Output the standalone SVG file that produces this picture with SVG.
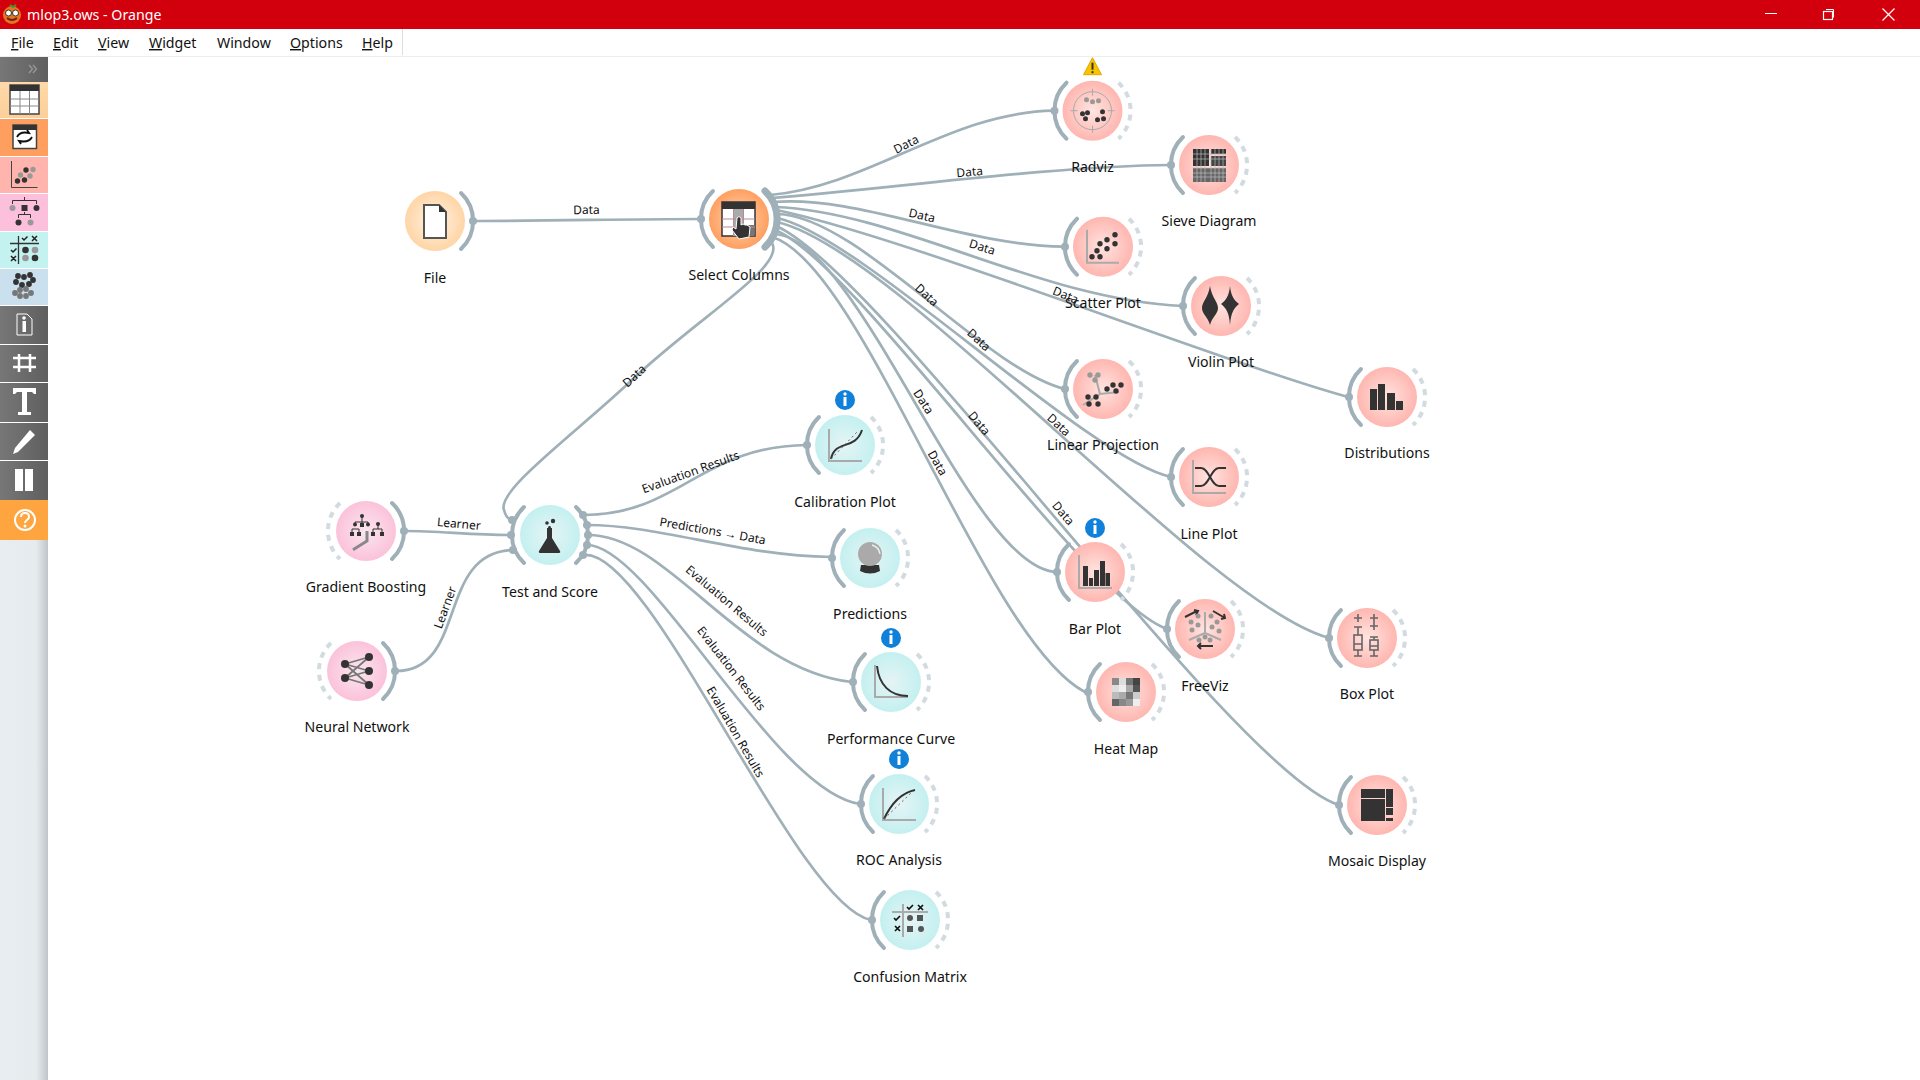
<svg xmlns="http://www.w3.org/2000/svg" width="1920" height="1080" viewBox="0 0 1920 1080">
<style>
text{font-family:"Noto Sans","Open Sans","Liberation Sans",sans-serif;fill:#111}
.t{font-size:14.1px;text-anchor:middle}
.l{font-size:12px;text-anchor:middle}
.m{font-size:14.2px}
.u{text-decoration:underline}
.c{fill:none;stroke:#9fb0b8;stroke-width:2.700}
.a{fill:none;stroke:#9fb0b8;stroke-width:4;stroke-linecap:round}
.d{fill:none;stroke:#d2dbe0;stroke-width:4;stroke-dasharray:6 5.7}
.p{fill:#9fb0b8}
.k{fill:#333}
.g{fill:#999}
.s{fill:none;stroke:#333;stroke-width:2}
.h{fill:none;stroke:#aaa;stroke-width:2}
.r{fill:url(#red)}.o{fill:url(#org)}.f{fill:url(#pale)}.n{fill:url(#pnk)}.y{fill:url(#cyn)}
.w{fill:#fff}
</style>
<defs>
<radialGradient id="red"><stop offset="0" stop-color="#ffe4e0"/><stop offset="1" stop-color="#ffb6b0"/></radialGradient>
<radialGradient id="org"><stop offset="0" stop-color="#ffd6b4"/><stop offset="1" stop-color="#ff9f60"/></radialGradient>
<radialGradient id="pale"><stop offset="0" stop-color="#fff3e6"/><stop offset="1" stop-color="#ffd5a5"/></radialGradient>
<radialGradient id="pnk"><stop offset="0" stop-color="#fbe6ef"/><stop offset="1" stop-color="#fbc2da"/></radialGradient>
<radialGradient id="cyn"><stop offset="0" stop-color="#e6f4f5"/><stop offset="1" stop-color="#c4f0f0"/></radialGradient>
<linearGradient id="gr" x1="0" x2="1" y1="0" y2="0"><stop offset="0" stop-color="#777"/><stop offset="1" stop-color="#5f5f5f"/></linearGradient>
<linearGradient id="sh" x1="0" x2="1" y1="0" y2="0"><stop offset="0" stop-color="#e8edf1"/><stop offset="0.75" stop-color="#e6ebee"/><stop offset="1" stop-color="#bfc6ca"/></linearGradient>
<linearGradient id="t1" x1="0" x2="0" y1="0" y2="1"><stop offset="0" stop-color="#ffd9a8"/><stop offset="1" stop-color="#fbcf9b"/></linearGradient>
<path id="ar" d="M26,-28A38.500,38.500 0 0 1 26,28"/>
<path id="al" d="M-26,-28A38.500,38.500 0 0 0 -26,28"/>
<g id="info"><circle r="10" fill="#1080d8"/><rect x="-1.500" y="-3" width="3" height="9" class="w"/><circle cy="-6" r="1.700" class="w"/></g>
</defs>
<rect width="1920" height="1080" fill="#fff"/>

<g id="window-chrome">
<rect width="1920" height="29" fill="#d2000d"/>
<circle cx="12" cy="15" r="9" fill="#e8751a"/><path d="M10,5l3,2l3,-2" fill="none" stroke="#3a9a3a" stroke-width="2"/><circle cx="8.500" cy="13" r="3" fill="#fff" stroke="#333"/><circle cx="15.500" cy="13" r="3" fill="#fff" stroke="#333"/><path d="M7,18q5,4 10,0" fill="none" stroke="#622" stroke-width="2"/>
<text x="27" y="20" style="font-size:14.200px;fill:#fff">mlop3.ows - Orange</text>
<path d="M1765,13.500h12" stroke="#fff" fill="none"/>
<rect x="1823.500" y="11.500" width="9" height="8" fill="none" stroke="#fff" stroke-width="1.200"/><path d="M1826,9.500h7.500v8" fill="none" stroke="#fff"/>
<path d="M1882.500,8.500l12,12M1894.500,8.500l-12,12" stroke="#fff" stroke-width="1.200" fill="none"/>
<text class="m" x="11" y="48"><tspan class="u">F</tspan>ile</text>
<text class="m" x="53" y="48"><tspan class="u">E</tspan>dit</text>
<text class="m" x="98" y="48"><tspan class="u">V</tspan>iew</text>
<text class="m" x="149" y="48"><tspan class="u">W</tspan>idget</text>
<text class="m" x="217" y="48">Window</text>
<text class="m" x="290" y="48"><tspan class="u">O</tspan>ptions</text>
<text class="m" x="362" y="48"><tspan class="u">H</tspan>elp</text>
<path d="M402.500,29v26" stroke="#ddd" fill="none"/>
<path d="M0,56.500H1920" stroke="#eee" fill="none"/>
</g>

<g id="sidebar">
<rect y="540" width="48" height="540" fill="url(#sh)"/>
<rect y="57" width="48" height="25" fill="url(#gr)"/>
<path d="M29,65l3.500,4l-3.500,4M33,65l3.500,4l-3.500,4" fill="none" stroke="#999" stroke-width="1.300"/>
<rect y="82" width="48" height="36" fill="url(#t1)"/>
<rect y="119" width="48" height="37" fill="#ff9f5f"/>
<rect y="157" width="48" height="36" fill="#ffb4ae"/>
<rect y="194" width="48" height="37" fill="#fcc0dc"/>
<rect y="232" width="48" height="36" fill="#c4f2f0"/>
<rect y="269" width="48" height="36" fill="#cbe0ee"/>
<rect y="306" width="48" height="38" fill="url(#gr)"/>
<rect y="345" width="48" height="37" fill="url(#gr)"/>
<rect y="383" width="48" height="39" fill="url(#gr)"/>
<rect y="423" width="48" height="37" fill="url(#gr)"/>
<rect y="461" width="48" height="39" fill="url(#gr)"/>
<rect y="500" width="48" height="40" fill="#ffa53f"/>
<rect x="10" y="85" width="29" height="29" fill="#fff" stroke="#444" stroke-width="1.500"/><rect x="10" y="85" width="29" height="6" fill="#333"/><path d="M20,91v23M29.500,91v23M10,99h29M10,106h29" stroke="#888" fill="none"/>
<rect x="13" y="125" width="23.500" height="23.500" fill="#fff" stroke="#444" stroke-width="1.500"/><rect x="13" y="125" width="23.500" height="5" fill="#333"/><path d="M17,137q3,-6 12,-4l-2,-3M32,137q-3,6 -13,4l2,3" fill="none" stroke="#111" stroke-width="1.800"/>
<path d="M11.500,161v26.500h26" fill="none" stroke="#444"/><g class="k"><circle cx="17.500" cy="181" r="2.700"/><circle cx="24.500" cy="180" r="2.700"/><circle cx="26" cy="170" r="2.700"/></g><g class="g"><circle cx="20.500" cy="175" r="2.700"/><circle cx="30" cy="176" r="2.700"/><circle cx="33" cy="169.500" r="2.700"/></g>
<path d="M12.500,204v-3.500h24v3.500M24.500,197v3.500M18.500,218v-3.500h12v3.500M24.500,212v2" fill="none" stroke="#333"/><circle cx="12.500" cy="208" r="3" class="g"/><rect x="21.500" y="205" width="6" height="6" class="k"/><circle cx="36.500" cy="208" r="3" class="k"/><circle cx="18.500" cy="222.500" r="3" class="k"/><circle cx="30.500" cy="222.500" r="3" class="g"/>
<path d="M18.500,236v28M10,243.500h29" stroke="#333" fill="none" stroke-width="1.300"/><circle cx="25.500" cy="250" r="3.300" class="k"/><circle cx="35" cy="250" r="3.300" class="g"/><circle cx="25.500" cy="258" r="3.300" class="g"/><circle cx="35" cy="258" r="3.300" class="k"/><path d="M22,238l2,2l3.500,-3.500M32,236l5,5M37,236l-5,5M11,250l2,2l3.500,-3.500M11,256l5,5M16,256l-5,5" fill="none" stroke="#222" stroke-width="1.500"/>
<g class="k"><circle cx="18" cy="276" r="2.900"/><circle cx="24" cy="277" r="2.900"/><circle cx="30" cy="275" r="2.900"/><circle cx="16" cy="282" r="2.900"/><circle cx="22" cy="285" r="2.900"/><circle cx="29" cy="284" r="2.900"/><circle cx="33" cy="280" r="2.900"/></g><g fill="#777"><circle cx="15" cy="293" r="2.900"/><circle cx="20" cy="290" r="2.900"/><circle cx="26" cy="289" r="2.900"/><circle cx="31" cy="293" r="2.900"/><circle cx="20" cy="296" r="2.900"/><circle cx="26" cy="296" r="2.900"/></g>
<path d="M17,314h10l5,5v16h-15z" fill="none" stroke="#fff"/><rect x="22.500" y="321" width="3.500" height="11" class="w"/><circle cx="24" cy="318" r="1.800" class="w"/>
<path d="M19,354v18M30,354v18M13,358h23M13,367h23" stroke="#fff" stroke-width="2.500" fill="none"/>
<path d="M13,388h23v6h-2l-2,-2h-5v20h4v3h-13v-3h4v-20h-5l-2,2h-2z" class="w"/>
<path d="M30,430l5,5l-17,17l-5,2l2,-6z" class="w"/>
<rect x="15" y="469" width="8" height="22" class="w"/><rect x="25" y="469" width="8" height="22" class="w"/>
<circle cx="25" cy="520" r="10" fill="none" stroke="#fff" stroke-width="2"/><path d="M21,517q0,-4 4,-4t4,4c0,3 -4,3 -4,6" fill="none" stroke="#fff" stroke-width="2"/><circle cx="25" cy="526" r="1.500" class="w"/>
</g>

<g id="connectors">
<path class="c" d="M473,221C560,221 620,219 701,219"/>
<path class="c" d="M770,195C870,186 950,112 1054,110.700"/>
<path class="c" d="M772,198C880,190 1050,166 1170,165"/>
<path class="c" d="M773,202C860,195 960,245 1064,246.700"/>
<path class="c" d="M775,207C900,212 1040,300 1183,306"/>
<path class="c" d="M776,210C900,235 1224,363 1348,397"/>
<path class="c" d="M777,214C857,215 985,370 1065,389"/>
<path class="c" d="M777,218C860,235 1088,459 1171,477"/>
<path class="c" d="M777,222C900,250 1206,605 1329,638"/>
<path class="c" d="M776,226C880,270 1234,773 1339,805"/>
<path class="c" d="M775,230C857,263 1085,600 1167,629"/>
<path class="c" d="M774,234C860,236 970,570 1057,572"/>
<path class="c" d="M772,237C863,264 985,640 1085,692"/>
<path class="c" d="M772,243C786,266 700,316 634,378C580,430 496,490 504,510C506,518 510,520 513,520"/>
<path class="c" d="M405,531C440,531 470,535 510,535"/>
<path class="c" d="M396,671C468,671 436,552 513,550"/>
<path class="c" d="M583,515C680,515 700,446 807,445"/>
<path class="c" d="M587,525C660,525 740,556 831,557"/>
<path class="c" d="M588,535C670,535 740,670 852,682"/>
<path class="c" d="M587,545C650,545 774,792 860,804"/>
<path class="c" d="M583,555C650,545 795,905 871,920"/>
<g>
<text class="l" transform="translate(586.500 214) rotate(-1)">Data</text>
<text class="l" transform="translate(908 148) rotate(-27)">Data</text>
<text class="l" transform="translate(970 176) rotate(-5)">Data</text>
<text class="l" transform="translate(921 219.500) rotate(13)">Data</text>
<text class="l" transform="translate(981 251) rotate(17)">Data</text>
<text class="l" transform="translate(1064 299) rotate(22)">Data</text>
<text class="l" transform="translate(924 298) rotate(43)">Data</text>
<text class="l" transform="translate(976 343) rotate(42)">Data</text>
<text class="l" transform="translate(1056 428) rotate(42)">Data</text>
<text class="l" transform="translate(976 426) rotate(50)">Data</text>
<text class="l" transform="translate(1060 516) rotate(50)">Data</text>
<text class="l" transform="translate(920 404) rotate(57)">Data</text>
<text class="l" transform="translate(934 465) rotate(60)">Data</text>
<text class="l" transform="translate(637 379) rotate(-42)">Data</text>
<text class="l" transform="translate(458.500 528) rotate(5)">Learner</text>
<text class="l" transform="translate(449 609) rotate(-70)">Learner</text>
<text class="l" transform="translate(692 476) rotate(-20)">Evaluation Results</text>
<text class="l" transform="translate(712 535) rotate(10)">Predictions → Data</text>
<text class="l" transform="translate(724 604) rotate(40)">Evaluation Results</text>
<text class="l" transform="translate(728 671) rotate(52)">Evaluation Results</text>
<text class="l" transform="translate(732 734) rotate(60)">Evaluation Results</text>
</g>
</g>

<g id="file" transform="translate(435 221)"><circle r="30" class="f"/><use href="#ar" class="a"/><circle cx="38" r="4" class="p"/>
<path d="M-11,-16h15l7,7v26h-22z" fill="#fff" stroke="#555" stroke-width="2"/><path d="M4,-16l7,7h-7z" class="k"/>
<text class="t" y="62">File</text></g>

<g id="select-columns" transform="translate(739 219)"><circle r="30" class="o"/><use href="#al" class="a"/><use href="#ar" class="a"/><circle cx="-38" r="4" class="p"/>
<path d="M26,-28A38.500,38.500 0 0 1 26,28" fill="none" stroke="#9fb0b8" stroke-width="7" stroke-linecap="round"/>
<rect x="-17" y="-17" width="33" height="34" fill="#fff" stroke="#333" stroke-width="1.500"/><rect x="-17" y="-17" width="33" height="7" class="k"/><rect x="-5.500" y="-10" width="10" height="27" fill="#aaa"/><rect x="4.500" y="6" width="11" height="11" fill="#777"/><path d="M-17,0h33M-17,8h33M-5.500,-10v27M4.500,-10v27" stroke="#b89" fill="none"/>
<path d="M-2,-1q2,-3 4,0v7l2,-1l2,1l2,0l3,2l-1,10l-10,2l-7,-9l1,-3l3,2z" fill="#333" stroke="#fff"/>
<text class="t" y="61">Select Columns</text></g>

<g id="radviz" transform="translate(1092.500 110.700)"><circle r="30" class="r"/><use href="#al" class="a"/><use href="#ar" class="d"/><circle cx="-38" r="4" class="p"/>
<circle r="19" fill="none" stroke="#aaa"/><path d="M0,-22v7M0,15v7M-22,0h7M15,0h7" stroke="#aaa" fill="none"/><g class="g"><circle cx="-6" cy="-11" r="2.500"/><circle cy="-9" r="2.500"/><circle cx="6" cy="-10" r="2.500"/></g><g class="k"><circle cx="-10" cy="3" r="2.500"/><circle cx="-5" cy="2" r="2.500"/><circle cx="-7" cy="8" r="2.500"/><circle cx="10" cy="1" r="2.500"/><circle cx="5" cy="9" r="2.500"/><circle cx="11" cy="8" r="2.500"/></g>
<text class="t" y="61">Radviz</text>
<path d="M0,-53l9,17h-18z" fill="#f8c400" stroke="#e2a800" stroke-linejoin="round"/><rect x="-1" y="-48" width="2" height="7" class="k"/><rect x="-1" y="-39.500" width="2" height="2" class="k"/></g>

<g id="sieve-diagram" transform="translate(1209 165)"><circle r="30" class="r"/><use href="#al" class="a"/><use href="#ar" class="d"/><circle cx="-38" r="4" class="p"/>
<rect x="-16" y="-16" width="16" height="17" class="k"/><rect x="2" y="-16" width="15" height="5" class="k"/><rect x="2" y="-9" width="15" height="10" fill="#444"/><rect x="-16" y="3" width="33" height="14" fill="#666"/><path d="M-12,-16v33M-8,-16v33M-4,-16v33M2,-16v33M6,-16v33M10,-16v33M14,-16v33M-16,-11h33M-16,-6h33M-16,3h33M-16,8h33M-16,12h33" stroke="#bbb" stroke-width=".7" fill="none"/>
<text class="t" y="61">Sieve Diagram</text></g>

<g id="scatter-plot" transform="translate(1103 246.700)"><circle r="30" class="r"/><use href="#al" class="a"/><use href="#ar" class="d"/><circle cx="-38" r="4" class="p"/>
<path d="M-16,-17v33h32" class="h"/><g class="k"><circle cx="-11" cy="10" r="2.700"/><circle cx="-6" cy="4" r="2.700"/><circle cx="-3" cy="10" r="2.700"/><circle cx="-3" cy="-3" r="2.700"/><circle cx="4" cy="2" r="2.700"/><circle cx="4" cy="-7" r="2.700"/><circle cx="12" cy="-3" r="2.700"/><circle cx="12" cy="-12" r="2.700"/></g>
<text class="t" y="61">Scatter Plot</text></g>

<g id="violin-plot" transform="translate(1221 306)"><circle r="30" class="r"/><use href="#al" class="a"/><use href="#ar" class="d"/><circle cx="-38" r="4" class="p"/>
<path d="M-11,-20C-9,-8 -3,-4 -3,2C-3,8 -9,11 -11,19C-13,11 -19,8 -19,2C-19,-4 -13,-8 -11,-20z" class="k"/><path d="M9,-20C10,-10 13,-6 18,-2C13,2 10,6 9,19C8,6 5,2 0,-2C5,-6 8,-10 9,-20z" class="k"/>
<text class="t" y="61">Violin Plot</text></g>

<g id="linear-projection" transform="translate(1103 389)"><circle r="30" class="r"/><use href="#al" class="a"/><use href="#ar" class="d"/><circle cx="-38" r="4" class="p"/>
<path d="M-8,-14L-3,5L16,3M-3,5L-20,16" class="h"/><g class="g"><circle cx="-13" cy="-14" r="2.700"/><circle cx="-5" cy="-14" r="2.700"/><circle cx="-8" cy="-9" r="2.700"/></g><g class="k"><circle cx="4" cy="0" r="2.700"/><circle cx="10" cy="-4" r="2.700"/><circle cx="13" cy="2" r="2.700"/><circle cx="18" cy="-4" r="2.700"/><circle cx="-15" cy="8" r="2.700"/><circle cx="-7" cy="8" r="2.700"/><circle cx="-14" cy="15" r="2.700"/><circle cx="-5" cy="15" r="2.700"/></g>
<text class="t" y="61">Linear Projection</text></g>

<g id="distributions" transform="translate(1387 397)"><circle r="30" class="r"/><use href="#al" class="a"/><use href="#ar" class="d"/><circle cx="-38" r="4" class="p"/>
<rect x="-17" y="-8" width="7" height="21" class="k"/><rect x="-9" y="-13" width="7" height="26" class="k"/><rect x="0" y="-4" width="8" height="17" class="k"/><rect x="9" y="4" width="7" height="9" class="k"/>
<text class="t" y="61">Distributions</text></g>

<g id="line-plot" transform="translate(1209 477)"><circle r="30" class="r"/><use href="#al" class="a"/><use href="#ar" class="d"/><circle cx="-38" r="4" class="p"/>
<path d="M-16,-17v33h33" class="h"/><path d="M-14,-9H-8C0,-9 2,9 10,9H17M-14,9H-8C0,9 2,-9 10,-9H17" class="s"/>
<text class="t" y="62">Line Plot</text></g>

<g id="bar-plot" transform="translate(1095 572)"><circle r="30" class="r"/><use href="#al" class="a"/><use href="#ar" class="d"/><circle cx="-38" r="4" class="p"/>
<path d="M-16,-17v33h33" class="h"/><rect x="-12" y="-6" width="5" height="20" class="k"/><rect x="-6" y="6" width="4" height="8" class="k"/><rect x="-1" y="-2" width="5" height="16" class="k"/><rect x="5" y="-11" width="5" height="25" class="k"/><rect x="10.500" y="1" width="4.500" height="13" class="k"/>
<text class="t" y="62">Bar Plot</text><use href="#info" y="-44"/></g>

<g id="freeviz" transform="translate(1205 629)"><circle r="30" class="r"/><use href="#al" class="a"/><use href="#ar" class="d"/><circle cx="-38" r="4" class="p"/>
<path d="M0,-17V4L-16,11M0,4L16,11" class="h"/><path d="M-20,-12L-8,-18M-11,-19L-7,-18L-9,-14M8,-18L20,-11M16,-10L20,-11L19,-15M-7,17H8M-4,14L-7,17L-4,20" class="s"/><g class="g"><circle cx="-7" cy="-13" r="2.500"/><circle cx="-14" cy="-7" r="2.500"/><circle cx="-7" cy="-4" r="2.500"/><circle cx="-13" cy="1" r="2.500"/><circle cx="6" cy="-13" r="2.500"/><circle cx="12" cy="-7" r="2.500"/><circle cx="7" cy="-2" r="2.500"/><circle cx="14" cy="2" r="2.500"/><circle cx="-6" cy="11" r="2.500"/><circle cx="0" cy="8" r="2.500"/><circle cx="5" cy="11" r="2.500"/></g>
<text class="t" y="62">FreeViz</text></g>

<g id="box-plot" transform="translate(1367 638)"><circle r="30" class="r"/><use href="#al" class="a"/><use href="#ar" class="d"/><circle cx="-38" r="4" class="p"/>
<g fill="none" stroke="#666" stroke-width="1.600"><path d="M-13,-20h8M-9,-24v8M-13,-11h8M-9,-11v8M-9,12v6M-13,18h8"/><rect x="-13" y="-3" width="8" height="15"/><path d="M-13,6h8M3,-20h8M7,-24v8M3,-12h8M7,-16v8M3,-1h8M7,-1v3M7,12v6M3,18h8M3,8h8"/><rect x="3" y="2" width="8" height="10"/></g>
<text class="t" y="61">Box Plot</text></g>

<g id="heat-map" transform="translate(1126 692)"><circle r="30" class="r"/><use href="#al" class="a"/><use href="#ar" class="d"/><circle cx="-38" r="4" class="p"/>
<g><rect x="-14" y="-14" width="28" height="28" fill="#aaa"/><rect x="-14" y="-14" width="7" height="7" fill="#888"/><rect x="-7" y="-14" width="7" height="7" fill="#ddd"/><rect x="7" y="-14" width="7" height="7" fill="#444"/><rect x="0" y="-14" width="7" height="7" fill="#777"/><rect x="-14" y="-7" width="7" height="7" fill="#ddd"/><rect x="-7" y="-7" width="7" height="7" fill="#eee"/><rect x="7" y="-7" width="7" height="7" fill="#555"/><rect x="-14" y="0" width="7" height="7" fill="#bbb"/><rect x="0" y="0" width="7" height="7" fill="#777"/><rect x="7" y="0" width="7" height="7" fill="#ccc"/><rect x="-14" y="7" width="7" height="7" fill="#666"/><rect x="-7" y="7" width="7" height="7" fill="#888"/><rect x="0" y="7" width="7" height="7" fill="#999"/><rect x="7" y="7" width="7" height="7" fill="#eee"/></g>
<text class="t" y="62">Heat Map</text></g>

<g id="mosaic-display" transform="translate(1377 805)"><circle r="30" class="r"/><use href="#al" class="a"/><use href="#ar" class="d"/><circle cx="-38" r="4" class="p"/>
<rect x="-16" y="-16" width="24" height="9" class="k"/><rect x="-16" y="-6" width="24" height="22" class="k"/><rect x="9" y="-16" width="7" height="18" class="k"/><rect x="9" y="3" width="7" height="7" class="k"/><rect x="9" y="13" width="7" height="3" class="k"/>
<text class="t" y="61">Mosaic Display</text></g>

<g id="gradient-boosting" transform="translate(366 531)"><circle r="30" class="n"/><use href="#ar" class="a"/><use href="#al" class="d"/><circle cx="38" r="4" class="p"/>
<path d="M-13,18.700L1,10V0" fill="none" stroke="#888" stroke-width="3"/><path d="M-11,-5v-4h13v4M-4,-14v8M-14,1v-3h7v3M12,-6v4M7,1v-3h9v3" fill="none" stroke="#333"/><g class="k"><circle cx="-4" cy="-15" r="2"/><rect x="-6" y="-8" width="4" height="4"/><circle cx="-11" cy="-6.500" r="2"/><circle cx="2" cy="-6.500" r="2"/><rect x="-16" y="1" width="4" height="4"/><rect x="-9" y="1" width="4" height="4"/><circle cx="12" cy="-7" r="2"/><rect x="5" y="1" width="4" height="4"/><rect x="14" y="1" width="4" height="4"/></g>
<text class="t" y="61">Gradient Boosting</text></g>

<g id="neural-network" transform="translate(357 671)"><circle r="30" class="n"/><use href="#ar" class="a"/><use href="#al" class="d"/><circle cx="38" r="4" class="p"/>
<path d="M-12,-7L12,-14M-12,-7L12,0M-12,-7L12,14M-12,7L12,-14M-12,7L12,0M-12,7L12,14" stroke="#777" stroke-width="1.800" fill="none"/><g class="k"><circle cx="-12" cy="-7" r="4"/><circle cx="-12" cy="7" r="4"/><circle cx="12" cy="-14" r="4"/><circle cx="12" r="4"/><circle cx="12" cy="14" r="4"/></g>
<text class="t" y="61">Neural Network</text></g>

<g id="test-and-score" transform="translate(550 535)"><circle r="30" class="y"/><use href="#al" class="a"/><use href="#ar" class="a"/><circle cx="-38" cy="-15" r="4" class="p"/><circle cx="-39" r="4" class="p"/><circle cx="-37" cy="15" r="4" class="p"/><circle cx="33" cy="-20" r="4" class="p"/><circle cx="37" cy="-10" r="4" class="p"/><circle cx="38" r="4" class="p"/><circle cx="37" cy="10" r="4" class="p"/><circle cx="33" cy="20" r="4" class="p"/>
<path d="M-3,-7h5v10l8,13q1,2 -2,2h-17q-3,0 -2,-2l8,-13z" class="k"/><circle cx="-3" cy="-12" r="1.800" class="k"/><circle cx="-0.500" cy="-7.500" r="1.400" class="k"/><circle cx="3" cy="-14" r="2.200" class="k"/>
<text class="t" y="62">Test and Score</text></g>

<g id="calibration-plot" transform="translate(845 445)"><circle r="30" class="y"/><use href="#al" class="a"/><use href="#ar" class="d"/><circle cx="-38" r="4" class="p"/>
<path d="M-16,-16v32h33" class="h"/><path d="M-14,14C-10,-6 10,6 17,-15" class="s"/><path d="M-14,14L12,-13" fill="none" stroke="#666" stroke-dasharray="2 3"/>
<text class="t" y="62">Calibration Plot</text><use href="#info" y="-45"/></g>

<g id="predictions" transform="translate(870 558)"><circle r="30" class="y"/><use href="#al" class="a"/><use href="#ar" class="d"/><circle cx="-38" r="4" class="p"/>
<path d="M-9,7h18l1,6q-10,5 -20,0z" class="k"/><circle cy="-4" r="12" fill="#aaa"/><path d="M2,-13q7,2 8,9" fill="none" stroke="#eee" stroke-width="1.500"/>
<text class="t" y="61">Predictions</text></g>

<g id="performance-curve" transform="translate(891 682)"><circle r="30" class="y"/><use href="#al" class="a"/><use href="#ar" class="d"/><circle cx="-38" r="4" class="p"/>
<path d="M-16,-17v32h33" class="h"/><path d="M-14,-16C-12,3 -1,14 17,14" class="s"/>
<text class="t" y="62">Performance Curve</text><use href="#info" y="-44"/></g>

<g id="roc-analysis" transform="translate(899 804)"><circle r="30" class="y"/><use href="#al" class="a"/><use href="#ar" class="d"/><circle cx="-38" r="4" class="p"/>
<path d="M-16,-16v32h33" class="h"/><path d="M-15,15C-8,0 2,-11 16,-14" class="s"/><path d="M-15,15L12,-11" fill="none" stroke="#666" stroke-dasharray="2 3"/>
<text class="t" y="61">ROC Analysis</text><use href="#info" y="-45"/></g>

<g id="confusion-matrix" transform="translate(910 920)"><circle r="30" class="y"/><use href="#al" class="a"/><use href="#ar" class="d"/><circle cx="-38" r="4" class="p"/>
<path d="M-7,-16v33M-18,-8h36" class="h"/><circle cy="-2" r="3" fill="#555"/><rect x="7" y="-5" width="6" height="6" fill="#555"/><rect x="-3" y="6" width="6" height="6" fill="#555"/><circle cx="11" cy="9" r="3" fill="#555"/><path d="M-3,-13l2,2l4,-4M8,-15l5,5M13,-15l-5,5M-16,-2l2,2l4,-4M-15,6l5,5M-10,6l-5,5" fill="none" stroke="#111" stroke-width="1.700"/>
<text class="t" y="62">Confusion Matrix</text></g>
</svg>
